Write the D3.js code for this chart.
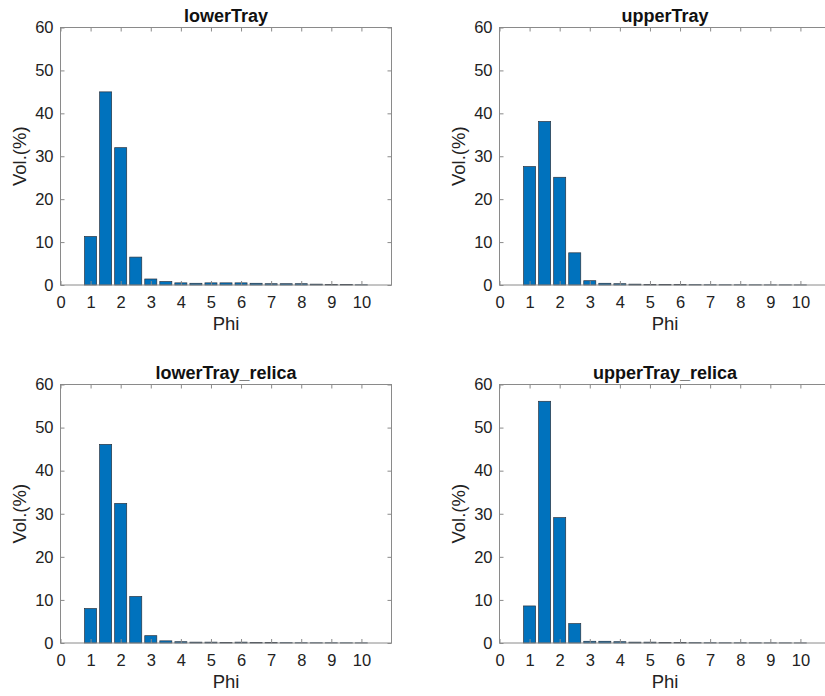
<!DOCTYPE html>
<html>
<head>
<meta charset="utf-8">
<script src="https://cdn.jsdelivr.net/npm/d3@7"></script>
<style>
  html, body { margin: 0; padding: 0; background: #fff; }
  svg { display: block; }
  .tick text { font-family: "Liberation Sans", Arial, Helvetica, sans-serif; }
</style>
</head>
<body>
<svg id="fig" width="825" height="696"></svg>
<script>
// Bin centres (phi) shared by all four histograms
const phi = [1, 1.5, 2, 2.5, 3, 3.5, 4, 4.5, 5, 5.5, 6, 6.5, 7, 7.5, 8, 8.5, 9, 9.5, 10];

// Volume percentages per bin
const lowerTray        = [11.3, 45.0, 32.0, 6.5, 1.4, 0.8, 0.5, 0.4, 0.5, 0.5, 0.5, 0.4, 0.3, 0.3, 0.3, 0.2, 0.15, 0.1, 0.05];
const upperTray        = [27.6, 38.1, 25.1, 7.5, 1.0, 0.4, 0.3, 0.2, 0.15, 0.1, 0.1, 0.08, 0.06, 0.05, 0.05, 0.04, 0.03, 0.03, 0.02];
const lowerTray_relica = [8.0, 46.1, 32.4, 10.8, 1.7, 0.5, 0.3, 0.2, 0.2, 0.15, 0.2, 0.1, 0.1, 0.08, 0.06, 0.05, 0.05, 0.04, 0.03];
const upperTray_relica = [8.6, 56.1, 29.1, 4.5, 0.4, 0.4, 0.3, 0.2, 0.2, 0.15, 0.15, 0.08, 0.06, 0.05, 0.05, 0.04, 0.03, 0.03, 0.02];

// Axis ticks
const xTicks = [0, 1, 2, 3, 4, 5, 6, 7, 8, 9, 10];
const yTicks = [0, 10, 20, 30, 40, 50, 60];

const titles = ["lowerTray", "upperTray", "lowerTray_relica", "upperTray_relica"];
const seriesList = [lowerTray, upperTray, lowerTray_relica, upperTray_relica];

const FONT = '"Liberation Sans", Arial, Helvetica, sans-serif';
const TEXT = "#222";
const AXIS = "#8a8a8a";
const BAR = "#0072BD";

// Axes boxes (left, top, width, height)
const boxes = [
  { x: 60.5,  y: 27.5,  w: 331, h: 257.5 },
  { x: 499.5, y: 27.5,  w: 331, h: 257.5 },
  { x: 60.5,  y: 384.5, w: 331, h: 258.5 },
  { x: 499.5, y: 384.5, w: 331, h: 258.5 }
];

const svg = d3.select("#fig");

boxes.forEach((b, i) => {
  const data = seriesList[i];
  const g = svg.append("g").attr("transform", `translate(${b.x},${b.y})`);

  const x = d3.scaleLinear().domain([0, 11]).range([0, b.w]);
  const y = d3.scaleLinear().domain([0, 60]).range([b.h, 0]);
  const barW = x(0.4) - x(0);

  // Bars
  g.append("g").selectAll("rect")
    .data(phi.map((p, k) => ({ p, v: data[k] })))
    .join("rect")
    .attr("x", d => x(d.p) - barW / 2)
    .attr("y", d => y(d.v))
    .attr("width", barW)
    .attr("height", d => y(0) - y(d.v))
    .attr("fill", BAR)
    .attr("stroke", "#2a3440")
    .attr("stroke-width", 0.7);

  // Bottom axis (inward ticks)
  const ax = g.append("g").attr("transform", `translate(0,${b.h})`)
    .call(d3.axisBottom(x).tickValues(xTicks).tickSize(-4).tickSizeOuter(0).tickPadding(11).tickFormat(d3.format("d")));
  // Left axis
  const ay = g.append("g")
    .call(d3.axisLeft(y).tickValues(yTicks).tickSize(-4).tickSizeOuter(0).tickPadding(7).tickFormat(d3.format("d")));
  // Top and right axes: ticks only
  const at = g.append("g")
    .call(d3.axisTop(x).tickValues(xTicks).tickSize(-4).tickSizeOuter(0).tickFormat(""));
  const ar = g.append("g").attr("transform", `translate(${b.w},0)`)
    .call(d3.axisRight(y).tickValues(yTicks).tickSize(-4).tickSizeOuter(0).tickFormat(""));

  [ax, ay, at, ar].forEach(a => {
    a.select(".domain").remove();
    a.selectAll(".tick line").attr("stroke", AXIS).attr("stroke-width", 1);
    a.selectAll(".tick text").attr("fill", TEXT).style("font-size", "16.5px").style("font-family", FONT);
  });

  // Box outline
  g.append("rect")
    .attr("x", 0).attr("y", 0)
    .attr("width", b.w).attr("height", b.h)
    .attr("fill", "none")
    .attr("stroke", AXIS)
    .attr("stroke-width", 1);

  // Title
  g.append("text")
    .attr("x", b.w / 2).attr("y", -5.5)
    .attr("text-anchor", "middle")
    .attr("fill", "#111")
    .style("font-family", FONT)
    .style("font-weight", "bold")
    .style("font-size", "18px")
    .text(titles[i]);

  // X label
  g.append("text")
    .attr("x", b.w / 2).attr("y", b.h + 45)
    .attr("text-anchor", "middle")
    .attr("fill", TEXT)
    .style("font-family", FONT)
    .style("font-size", "18.5px")
    .text("Phi");

  // Y label
  g.append("text")
    .attr("transform", `translate(-34.5,${b.h / 2}) rotate(-90)`)
    .attr("text-anchor", "middle")
    .attr("fill", TEXT)
    .style("font-family", FONT)
    .style("font-size", "18.5px")
    .text("Vol.(%)");
});
</script>
</body>
</html>
